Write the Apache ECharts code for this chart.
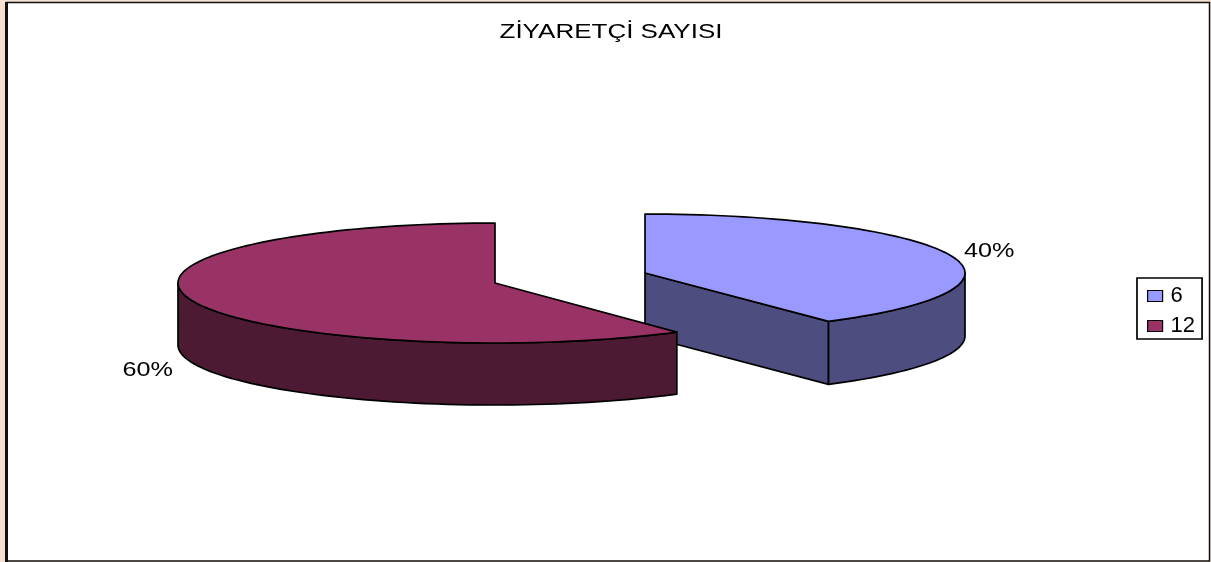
<!DOCTYPE html>
<html><head><meta charset="utf-8">
<style>html,body{margin:0;padding:0;background:#fff}#c{width:1211px;height:562px}</style>
<script src="https://cdn.jsdelivr.net/npm/echarts@6/dist/echarts.min.js"></script>
</head><body><div id="c"></div>
<script>
const categories = ['6', '12'];
const shares = [40, 60];
const topColors = ['#9999FF', '#993366'];
const sideColors = ['#4D4D80', '#4D1A33'];
const titleText = 'ZİYARETÇİ SAYISI';

// layout of the exploded slices
const slices = [
  {cx: 645, cy: 273, rx: 320, ry: 59, depth: 63, lx: 39, ly: -4, wall: [90, 145], radial: true},
  {cx: 495, cy: 283, rx: 317, ry: 60, depth: 62, lx: -45, ly: 7, wall: [145, 270], radial: false}
];
const total = shares.reduce((a, b) => a + b, 0);
const stroke = {stroke: '#000', lineWidth: 1.7, lineJoin: 'round'};
const perspectiveShift = 1; // the tilted view moves the slice boundary by about a degree

function pt(s, deg, dy) {
  const a = deg * Math.PI / 180;
  return [s.cx + s.rx * Math.sin(a), s.cy - s.ry * Math.cos(a) + (dy || 0)];
}
function arc(s, from, to, dy) {
  const out = [], n = Math.max(2, Math.ceil(Math.abs(to - from) / 2));
  for (let i = 0; i <= n; i++) out.push(pt(s, from + (to - from) * i / n, dy));
  return out;
}
function render(idx) {
  return function (params, api) {
    const value = api.value(0);
    const s = slices[idx];
    let cum = 0;
    for (let i = 0; i < idx; i++) cum += shares[i];
    const start = cum === 0 ? 0 : cum / total * 360 + perspectiveShift;
    const endCum = cum + value;
    const end = endCum === total ? 360 : endCum / total * 360 + perspectiveShift;
    const children = [];
    const side = {fill: sideColors[idx], ...stroke};
    if (s.radial) {
      const e = pt(s, end);
      children.push({type: 'polygon', shape: {points: [[s.cx, s.cy], e, [e[0], e[1] + s.depth], [s.cx, s.cy + s.depth]]}, style: side});
    }
    const w = arc(s, Math.max(start, s.wall[0]), Math.min(end, s.wall[1]));
    const wb = arc(s, Math.min(end, s.wall[1]), Math.max(start, s.wall[0]), s.depth);
    children.push({type: 'polygon', shape: {points: w.concat(wb)}, style: side});
    children.push({type: 'polygon', shape: {points: [[s.cx, s.cy]].concat(arc(s, start, end))},
      style: {fill: topColors[idx], ...stroke}});
    const mid = pt(s, (start + end) / 2, idx === 1 ? s.depth : 0);
    children.push({type: 'text', x: mid[0] + s.lx, y: mid[1] + s.ly, scaleX: 1.2,
      style: {text: Math.round(value / total * 100) + '%', fill: '#000', align: 'center', verticalAlign: 'middle',
        font: '21px "Liberation Sans", Arial, sans-serif'}});
    return {type: 'group', children};
  };
}

const chart = echarts.init(document.getElementById('c'), null, {renderer: 'canvas'});
chart.setOption({
  animation: false,
  backgroundColor: '#fff',
  legend: {
    orient: 'vertical', left: 1137, top: 278, padding: [7, 7, 2, 10], itemGap: 8,
    itemWidth: 15, itemHeight: 11, icon: 'rect', borderColor: '#000', borderWidth: 1.7,
    itemStyle: {borderColor: '#000', borderWidth: 1.2},
    textStyle: {fontFamily: '"Liberation Sans", Arial, sans-serif', fontSize: 22, color: '#000', padding: [0, 0, 0, 3]},
    data: categories
  },
  graphic: [
    {type: 'rect', z: -10, silent: true, shape: {x: 0, y: 0, width: 1211, height: 562}, style: {fill: '#F5E1D2'}},
    {type: 'rect', z: -9, silent: true, shape: {x: 6.5, y: 2.5, width: 1203, height: 558.5}, style: {fill: '#fff', stroke: '#111', lineWidth: 1.5}},
    {type: 'rect', z: -8, silent: true, shape: {x: 5, y: 2, width: 3, height: 560}, style: {fill: '#111'}},
    {type: 'text', x: 611, y: 32, scaleX: 1.3,
      style: {text: titleText, fill: '#000', align: 'center', verticalAlign: 'middle',
        font: '20px "Liberation Sans", Arial, sans-serif'}}
  ],
  series: categories.map((name, i) => ({
    type: 'custom', name, coordinateSystem: 'none',
    itemStyle: {color: topColors[i]},
    renderItem: render(i),
    data: [[shares[i]]]
  }))
});
</script></body></html>
